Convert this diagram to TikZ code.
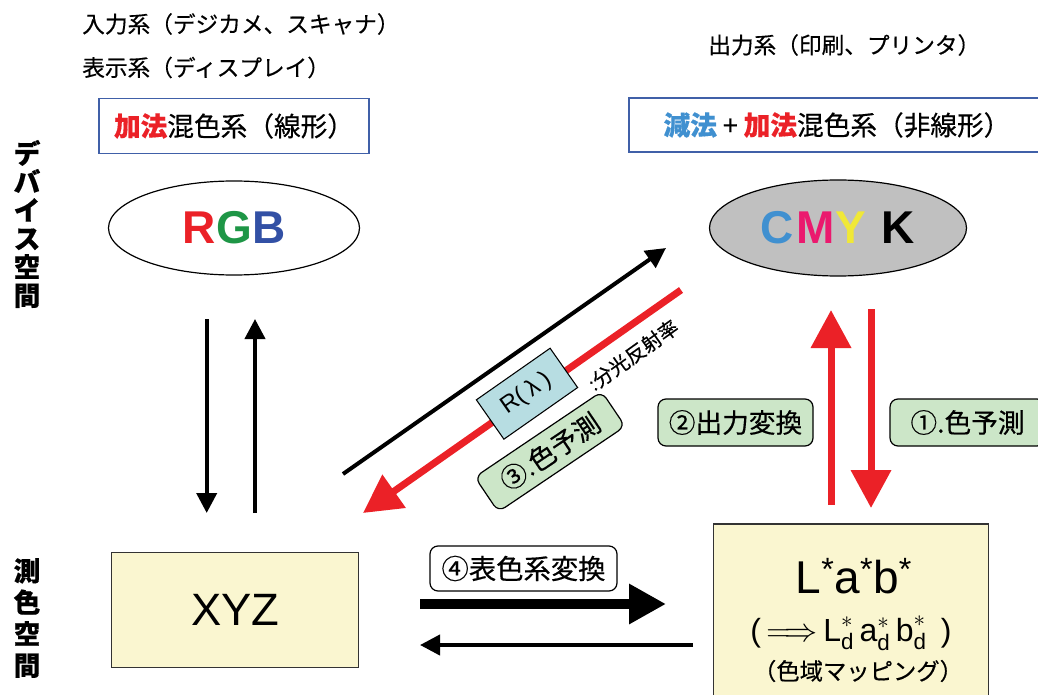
\documentclass[tikz,border=0pt]{standalone}
\usepackage{fontspec}
\usepackage{amsmath}
\setmainfont{Liberation Sans}
\newfontfamily\jp[FakeBold=0.4]{Noto Sans CJK JP}
\usetikzlibrary{arrows.meta,shapes.geometric}
\definecolor{arrred}{RGB}{235,33,39}
\definecolor{subblue}{RGB}{64,144,208}
\definecolor{boxblue}{RGB}{64,96,168}
\definecolor{grnfill}{RGB}{204,230,200}
\definecolor{lbfill}{RGB}{183,221,226}
\definecolor{ylfill}{RGB}{250,246,208}
\definecolor{gryfill}{RGB}{192,192,192}
\definecolor{rgbR}{RGB}{235,33,39}
\definecolor{rgbG}{RGB}{30,150,70}
\definecolor{rgbB}{RGB}{50,80,165}
\definecolor{cmyC}{RGB}{64,144,208}
\definecolor{cmyM}{RGB}{235,25,110}
\definecolor{cmyY}{RGB}{240,232,55}
\tikzset{
  toplbl/.style={font=\jp\fontsize{17}{20}\selectfont, inner sep=0pt, anchor=west},
  sysbox/.style={draw=boxblue, line width=1pt, fill=white, font=\jp\fontsize{20}{24}\selectfont, inner sep=0pt},
  vlbl/.style={font=\jp\bfseries\fontsize{20}{21.3}\selectfont, align=center, inner sep=0pt},
  ell/.style={ellipse, draw=black, line width=0.9pt, inner sep=0pt, font=\bfseries\fontsize{34.5}{40}\selectfont},
  ybox/.style={draw=black!80, line width=0.9pt, fill=ylfill, inner sep=0pt},
  gbox/.style={draw=black, line width=0.9pt, fill=grnfill, rounded corners=6pt, minimum width=116.25pt, minimum height=35.25pt, inner sep=0pt, font=\jp\fontsize{20}{24}\selectfont},
  wbox/.style={draw=black, line width=0.9pt, fill=white, rounded corners=6pt, minimum width=140.25pt, minimum height=33.75pt, inner sep=0pt, font=\jp\fontsize{20.5}{24}\selectfont},
  blk/.style={draw=black, line width=3pt, -{Triangle[length=15pt,width=15pt]}},
  blkthick/.style={draw=black, line width=7.5pt, -{Triangle[length=27.75pt,width=28.5pt]}},
  redarr/.style={draw=arrred, line width=5.25pt, -{Triangle[length=28.5pt,width=29.25pt]}},
}
\begin{document}
\begin{tikzpicture}[x=0.75pt,y=-0.75pt]
\useasboundingbox (0,0) rectangle (1038,695);
\clip (0,0) rectangle (1038,695);

% top labels
\node[toplbl] (in) at (82,24) {入力系（デジカメ、スキャナ）};
\node[toplbl] (disp) at (82,67.5) {表示系（ディスプレイ）};
\node[toplbl] (out) at (708,45) {出力系（印刷、プリンタ）};

% system boxes
\node[sysbox, minimum width=202.5pt, minimum height=41.25pt] (add) at (234,126)
  {{\color{arrred}\bfseries 加法}混色系（線形）};
\node[sysbox, minimum width=312pt, minimum height=40.5pt] (sub) at (837,125)
  {{\color{subblue}\bfseries 減法} + {\color{arrred}\bfseries 加法}混色系（非線形）};

% side labels
\node[vlbl] (dev) at (27,224) {デ\\バ\\イ\\ス\\空\\間};
\node[vlbl, font=\jp\bfseries\fontsize{20}{23.6}\selectfont] (meas) at (27,618) {測\\色\\空\\間};

% ellipses
\node[ell, fill=white, minimum width=188.25pt, minimum height=70.5pt] (rgb) at (234,228)
  {\textcolor{rgbR}{R}\kern0.5pt\textcolor{rgbG}{G}\kern0.5pt\textcolor{rgbB}{B}};
\node[ell, fill=gryfill, minimum width=192.75pt, minimum height=72pt] (cmyk) at (838,228)
  {\textcolor{cmyC}{C}\kern1.5pt\textcolor{cmyM}{M}\kern1pt\textcolor{cmyY}{Y}\kern2pt\ K};

% colorimetric boxes
\node[ybox, minimum width=185.25pt, minimum height=86.25pt, font=\fontsize{34}{40}\selectfont] (xyz) at (235.3,610) {XYZ};
\node[ybox, minimum width=206.25pt, minimum height=150pt] (lab) at (850.8,624) {};
\node[anchor=base, inner sep=0pt, font=\fontsize{34.5}{40}\selectfont] (labt) at (854,593)
  {L\textsuperscript{*}a\textsuperscript{*}b\textsuperscript{*}};
\node[anchor=base, inner sep=0pt, font=\fontsize{24}{28}\selectfont] (labd) at (851,641)
  {(\,$\Longrightarrow$\,$\text{L}^{*}_{\text{d}}$\,$\text{a}^{*}_{\text{d}}$\,$\text{b}^{*}_{\text{d}}$\, )};
\node[inner sep=0pt, font=\jp\fontsize{17.5}{20}\selectfont] (gam) at (858,671) {（色域マッピング）};

% left vertical arrows
\coordinate (d1s) at (206.7,319);
\coordinate (d1e) at (206.7,513);
\coordinate (u1s) at (255,513);
\coordinate (u1e) at (255,319);
\draw[blk] (d1s) -- (d1e);
\draw[blk] (u1s) -- (u1e);

% diagonal arrows
\coordinate (bs) at (343,474);
\coordinate (be) at (666,248);
\coordinate (rs) at (681,290);
\coordinate (re) at (363,513);
\draw[blk] (bs) -- (be);
\draw[redarr] (rs) -- (re);
\node[draw=black, line width=0.8pt, fill=lbfill, rotate=35, minimum width=67.5pt, minimum height=36pt, inner sep=0pt, font=\fontsize{18}{20}\selectfont] (refl) at (527,393.7)
  {R(\hspace{0.22em}λ\hspace{0.22em})};
\node[rotate=35.5, inner sep=0pt, font=\jp\fontsize{15}{18}\selectfont] (reflt) at (633,355) {:分光反射率};
\node[gbox, rotate=34, minimum width=114.75pt, minimum height=31.5pt] (p3) at (550,451.7) {③.色予測};

% right vertical red arrows
\coordinate (rus) at (831,505);
\coordinate (rue) at (831,310);
\coordinate (rds) at (871,309);
\coordinate (rde) at (871,508);
\draw[redarr] (rus) -- (rue);
\draw[redarr] (rds) -- (rde);
\node[gbox] (p2) at (735.5,422.5) {②出力変換};
\node[gbox] (p1) at (967.5,422.5) {①.色予測};

% horizontal arrows
\coordinate (hs) at (420,604);
\coordinate (he) at (666,604);
\coordinate (ts) at (693,645);
\coordinate (te) at (420,645);
\draw[blkthick] (hs) -- (he);
\draw[blk] (ts) -- (te);
\node[wbox] (p4) at (523.5,568.5) {④表色系変換};
\end{tikzpicture}
\end{document}
